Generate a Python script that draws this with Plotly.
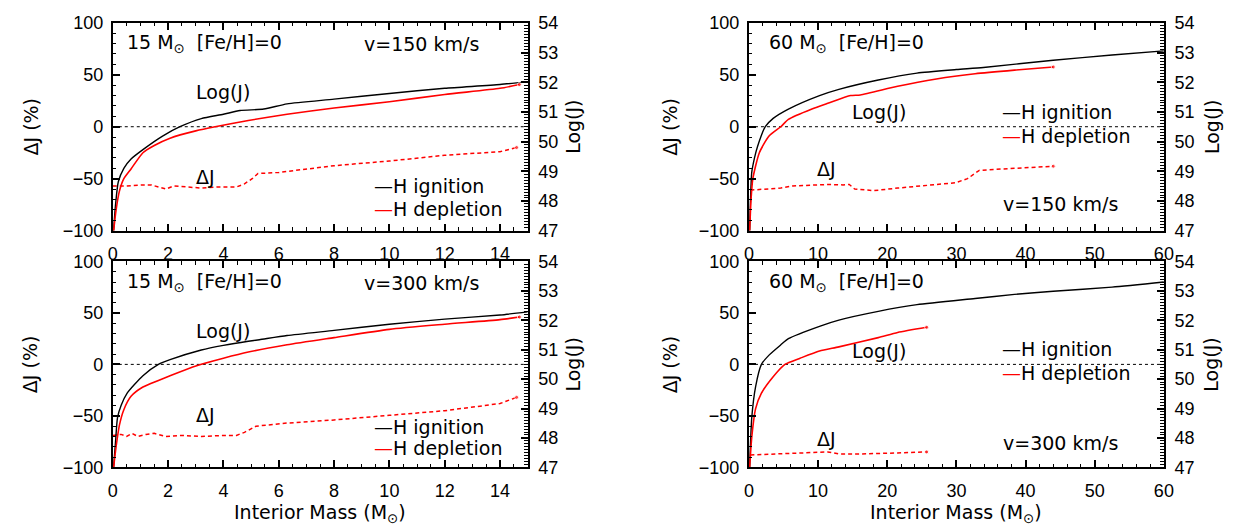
import plotly.graph_objects as go

W, H = 1238, 529

# ---------------- data ----------------
# Panel A: 15 Msun, v=150 km/s
a_ign_m = [0.03, 0.1, 0.2, 0.4, 0.66, 1.09, 1.8, 2.43, 3.2, 4.0, 4.6, 5.46, 6.3, 8, 10, 12, 14, 15]
a_ign_logj = [47.0, 47.875, 48.645, 49.1, 49.415, 49.73, 50.185, 50.5, 50.773, 50.92, 51.046, 51.095, 51.27, 51.428, 51.62, 51.795, 51.921, 52.02]
a_dep_m = [0.03, 0.12, 0.24, 0.4, 0.66, 1.09, 1.5, 2.07, 3.0, 3.7, 4.9, 6.3, 8, 10, 12, 14, 14.7]
a_dep_logj = [47.0, 47.7, 48.33, 48.75, 49.079, 49.625, 49.87, 50.115, 50.36, 50.5, 50.71, 50.92, 51.13, 51.34, 51.585, 51.795, 51.921]
a_dj_m = [0, 0.5, 1.09, 1.4, 1.65, 1.93, 2.2, 2.7, 3.2, 3.8, 4.47, 4.76, 5.04, 5.25, 6, 8, 10, 12, 14, 14.6]
a_dj = [-57, -57, -56, -56, -58, -60, -57, -58, -59, -58, -58, -55, -50, -45, -44, -37.5, -33, -27.5, -24, -20]

# Panel B: 60 Msun, v=150 km/s
b_ign_m = [0.1, 0.2, 0.4, 0.8, 1.24, 2.36, 3.5, 5.7, 10.2, 13, 18.7, 24.3, 30, 33.9, 44, 52.5, 60]
b_ign_logj = [47.0, 47.875, 48.96, 49.45, 49.835, 50.5, 50.78, 51.095, 51.55, 51.76, 52.075, 52.306, 52.425, 52.495, 52.74, 52.915, 53.055]
b_dep_m = [0.1, 0.3, 0.56, 1.5, 2.9, 4.6, 5.7, 9.1, 11.4, 14.7, 16.1, 21.5, 27.1, 32.7, 38.4, 44]
b_dep_logj = [47.0, 48.05, 48.75, 49.625, 50.185, 50.5, 50.745, 51.095, 51.2875, 51.55, 51.571, 51.865, 52.11, 52.285, 52.4075, 52.5125]
b_dj_m = [0.2, 4.6, 6.3, 11.4, 13.6, 14.5, 15.3, 18.1, 21.5, 27.1, 29.8, 31.6, 33.3, 38.4, 44]
b_dj = [-61, -59, -57, -55.6, -56, -55.6, -60, -61.5, -59, -56, -54, -50, -42, -40, -38]

# Panel C: 15 Msun, v=300 km/s
c_ign_m = [0.03, 0.1, 0.17, 0.3, 0.52, 1.09, 1.65, 2.07, 3.2, 4.0, 4.9, 5.3, 6.3, 8, 10, 12, 14, 15]
c_ign_logj = [47.0, 47.875, 48.68, 49.1, 49.52, 50.115, 50.5, 50.661, 50.99, 51.1475, 51.2875, 51.34, 51.48, 51.655, 51.865, 52.04, 52.18, 52.285]
c_dep_m = [0.03, 0.12, 0.24, 0.4, 0.66, 1.09, 2.07, 3.06, 4.0, 4.9, 6.3, 8, 10, 12, 14, 14.7]
c_dep_logj = [47.0, 47.7, 48.435, 48.96, 49.415, 49.73, 50.115, 50.465, 50.71, 50.92, 51.165, 51.41, 51.69, 51.865, 52.0225, 52.11]
c_dj_m = [0, 0.3, 0.5, 0.7, 0.9, 1.2, 1.5, 1.9, 2.5, 3.2, 4, 4.47, 4.76, 5.18, 6.3, 8, 10, 12, 14, 14.6]
c_dj = [-69, -68, -70, -67, -70, -68, -67, -70, -69, -70, -69, -69, -66, -60, -57, -54, -49.5, -45, -38, -32]

# Panel D: 60 Msun, v=300 km/s
d_ign_m = [0.1, 0.4, 0.96, 1.8, 2.9, 4.6, 5.7, 10.2, 13, 18.7, 24.3, 32.7, 38.4, 44, 52.5, 60]
d_ign_logj = [47.0, 48.68, 49.744, 50.5, 50.815, 51.165, 51.375, 51.795, 52.005, 52.3025, 52.53, 52.74, 52.88, 52.985, 53.125, 53.3]
d_dep_m = [0.1, 0.4, 0.96, 1.8, 3.5, 5.2, 7.4, 10.2, 13, 18.7, 21.5, 25.7]
d_dep_logj = [47.0, 48.015, 48.995, 49.52, 50.08, 50.5, 50.71, 50.955, 51.095, 51.41, 51.585, 51.76]
d_dj_m = [0.2, 5, 10.2, 11.4, 13, 15.9, 21.5, 25.7]
d_dj = [-88, -87, -85.5, -85, -87, -87, -86, -85]

panel_vel = ["v=150 km/s", "v=150 km/s", "v=300 km/s", "v=300 km/s"]
x_max = [15, 60, 15, 60]
dj_range = [-100, 100]
logj_range = [47, 54]

# ---------------- layout helpers ----------------
def px(x):
    return x / W

def py(y):
    return 1 - y / H

xdom = {"L": [px(101), px(521)], "R": [px(745), px(1165)]}
ydom = {"T": [py(221), py(5)], "B": [py(467), py(253)]}

TICKFONT = dict(family="Liberation Sans, Arial, sans-serif", size=18, color="black")
TXTFONT = dict(family="DejaVu Sans, sans-serif", size=19, color="black")

fig = go.Figure()

panels = [
    ("L", "T", a_ign_m, a_ign_logj, a_dep_m, a_dep_logj, a_dj_m, a_dj),
    ("R", "T", b_ign_m, b_ign_logj, b_dep_m, b_dep_logj, b_dj_m, b_dj),
    ("L", "B", c_ign_m, c_ign_logj, c_dep_m, c_dep_logj, c_dj_m, c_dj),
    ("R", "B", d_ign_m, d_ign_logj, d_dep_m, d_dep_logj, d_dj_m, d_dj),
]


def end_dot(n):
    return [0] * (n - 1) + [4]


layout = {}
for i, (hx, vy, im, ij, dm, dj_, gm, gj) in enumerate(panels):
    xn = i + 1
    yl = 2 * i + 1
    yr = 2 * i + 2
    xk = "x" if xn == 1 else f"x{xn}"
    ylk = "y" if yl == 1 else f"y{yl}"
    yrk = f"y{yr}"
    xmax = x_max[i]
    small = xmax <= 15
    layout["xaxis" if xn == 1 else f"xaxis{xn}"] = dict(
        domain=xdom[hx], anchor=ylk, range=[0, xmax],
        showline=True, linecolor="black", linewidth=2, mirror="ticks",
        ticks="inside", ticklen=7, tickwidth=1.5, tickcolor="black",
        dtick=2 if small else 10, tick0=0,
        minor=dict(dtick=0.5 if small else 2, ticks="inside", ticklen=3.5, tickwidth=1, tickcolor="black"),
        showgrid=False, zeroline=False, tickfont=TICKFONT, ticklabelstandoff=6,
    )
    layout["yaxis" if yl == 1 else f"yaxis{yl}"] = dict(
        domain=ydom[vy], anchor=xk, range=dj_range,
        showline=True, linecolor="black", linewidth=2, mirror=False,
        ticks="inside", ticklen=7, tickwidth=1.5, tickcolor="black",
        dtick=50, tick0=0,
        minor=dict(dtick=10, ticks="inside", ticklen=3.5, tickwidth=1, tickcolor="black"),
        showgrid=False, zeroline=False, tickfont=TICKFONT, ticklabelstandoff=4,
    )
    layout[f"yaxis{yr}"] = dict(
        domain=ydom[vy], anchor=xk, overlaying=ylk, side="right", range=logj_range,
        showline=True, linecolor="black", linewidth=2,
        ticks="inside", ticklen=7, tickwidth=1.5, tickcolor="black",
        dtick=1, tick0=47,
        minor=dict(dtick=0.1, ticks="inside", ticklen=3.5, tickwidth=1, tickcolor="black"),
        showgrid=False, zeroline=False, tickfont=TICKFONT, ticklabelstandoff=5,
    )
    # zero reference line
    fig.add_trace(go.Scatter(x=[0, xmax], y=[0, 0], xaxis=xk, yaxis=ylk, mode="lines",
                             line=dict(color="black", width=1, dash="3px,3px"),
                             showlegend=False, hoverinfo="skip"))
    # Delta J (dashed red)
    fig.add_trace(go.Scatter(x=gm, y=gj, xaxis=xk, yaxis=ylk, mode="lines+markers",
                             line=dict(color="red", width=1.5, dash="4px,3px"),
                             marker=dict(color="red", size=end_dot(len(gm))),
                             showlegend=False))
    # log J at H ignition (black) and H depletion (red)
    fig.add_trace(go.Scatter(x=im, y=ij, xaxis=xk, yaxis=yrk, mode="lines",
                             line=dict(color="black", width=1.4, shape="spline", smoothing=0.6),
                             showlegend=False))
    fig.add_trace(go.Scatter(x=dm, y=dj_, xaxis=xk, yaxis=yrk, mode="lines+markers",
                             line=dict(color="red", width=1.6, shape="spline", smoothing=0.6),
                             marker=dict(color="red", size=end_dot(len(dm))),
                             showlegend=False))

ann = []

def text(x, y, s, anchor="left", angle=0):
    ann.append(dict(x=px(x), y=py(y), xref="paper", yref="paper", text=s, showarrow=False,
                    xanchor=anchor, yanchor="middle", font=TXTFONT, textangle=angle))

sun = "M<sub>⊙</sub>"
# Top-left
text(113, 27, f"15 {sun}  [Fe/H]=0")
text(353, 27, panel_vel[0])
text(183, 77, "Log(J)")
text(183, 165, "ΔJ")
text(363, 175, "<span style='color:black'>—</span>H ignition")
text(363, 199, "<span style='color:red'>—</span>H depletion")
# Bottom-left
text(113, 275, f"15 {sun}  [Fe/H]=0")
text(353, 275, panel_vel[2])
text(183, 325, "Log(J)")
text(183, 413, "ΔJ")
text(363, 425, "<span style='color:black'>—</span>H ignition")
text(363, 447, "<span style='color:red'>—</span>H depletion")
# Top-right
text(763, 27, f"60 {sun}  [Fe/H]=0")
text(847, 98, "Log(J)")
text(999, 98, "<span style='color:black'>—</span>H ignition")
text(999, 123, "<span style='color:red'>—</span>H depletion")
text(812, 157, "ΔJ")
text(1000, 193, panel_vel[1])
# Bottom-right
text(763, 275, f"60 {sun}  [Fe/H]=0")
text(847, 346, "Log(J)")
text(999, 344, "<span style='color:black'>—</span>H ignition")
text(999, 369, "<span style='color:red'>—</span>H depletion")
text(812, 438, "ΔJ")
text(1000, 442, panel_vel[3])

# axis titles
for cy in (113, 360):
    text(18, cy, "ΔJ (%)", anchor="center", angle=-90)
    text(665, cy, "ΔJ (%)", anchor="center", angle=-90)
    text(567, cy, "Log(J)", anchor="center", angle=-90)
    text(1213, cy, "Log(J)", anchor="center", angle=-90)
text(311, 515, f"Interior Mass ({sun})", anchor="center")
text(955, 515, f"Interior Mass ({sun})", anchor="center")

fig.update_layout(
    width=W, height=H, margin=dict(l=0, r=0, t=0, b=0),
    paper_bgcolor="white", plot_bgcolor="white",
    showlegend=False, annotations=ann, **layout,
)

fig.write_html("out.html")
